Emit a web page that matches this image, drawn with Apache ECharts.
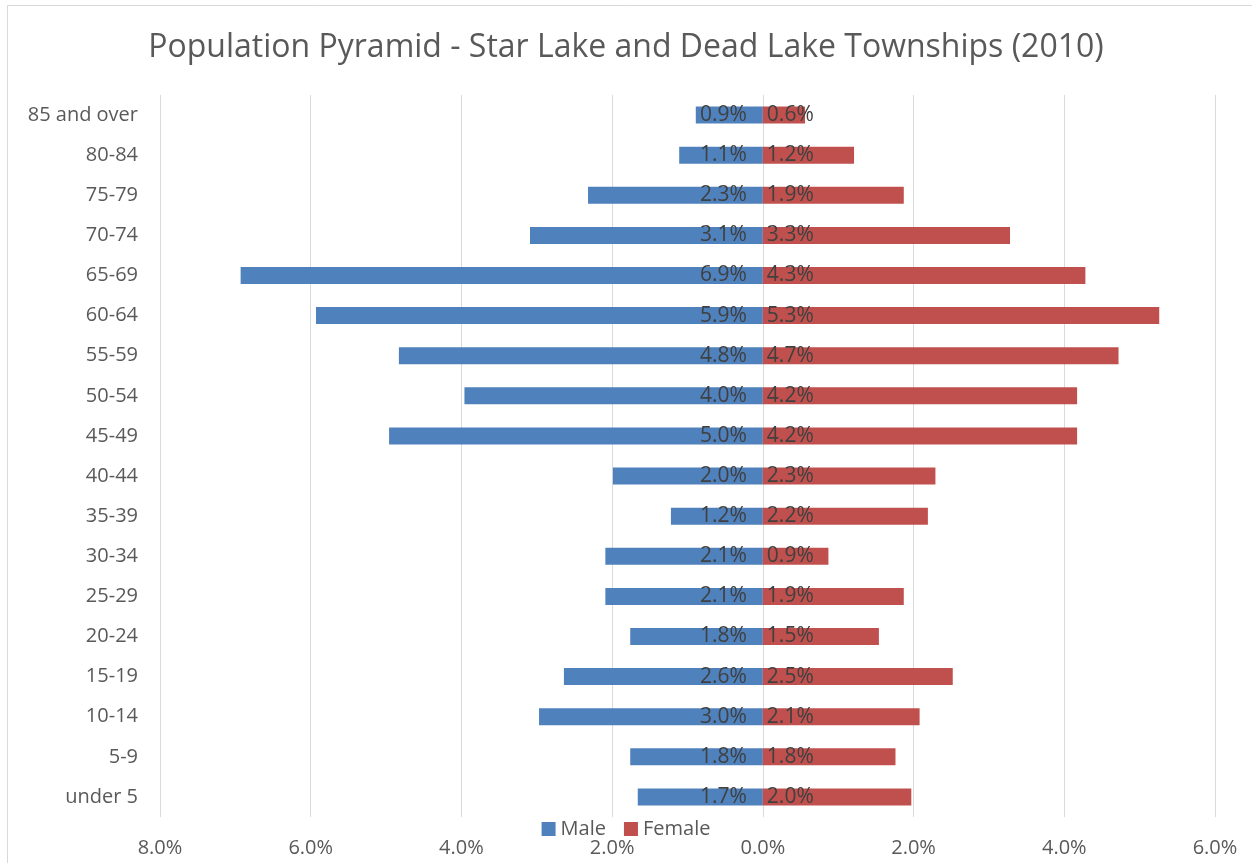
<!DOCTYPE html>
<html>
<head>
<meta charset="utf-8">
<script src="https://cdn.jsdelivr.net/npm/echarts@6/dist/echarts.min.js"></script>
<style>
html, body { margin: 0; padding: 0; background: #fff; }
#chart { width: 1252px; height: 863px; }
</style>
</head>
<body>
<div id="chart"></div>
<script>
var ageGroups = ['under 5', '5-9', '10-14', '15-19', '20-24', '25-29', '30-34', '35-39', '40-44',
	'45-49', '50-54', '55-59', '60-64', '65-69', '70-74', '75-79', '80-84', '85 and over'];
var maleShare = [1.66, 1.76, 2.97, 2.64, 1.76, 2.09, 2.09, 1.22, 1.99,
	4.96, 3.96, 4.83, 5.93, 6.93, 3.09, 2.32, 1.11, 0.89];
var femaleShare = [1.97, 1.76, 2.08, 2.52, 1.54, 1.87, 0.87, 2.19, 2.29,
	4.17, 4.17, 4.72, 5.26, 4.28, 3.28, 1.87, 1.21, 0.56];
var axisTicks = [-8, -6, -4, -2, 0, 2, 4, 6];

var chart = echarts.init(document.getElementById('chart'));
var font = '"Open Sans", "Noto Sans", sans-serif';

var option = {
	textStyle: { fontFamily: font },
	title: {
		text: 'Population Pyramid - Star Lake and Dead Lake Townships (2010)',
		left: 'center',
		top: 27,
		textStyle: { fontFamily: font, fontSize: 32, fontWeight: 'normal', color: '#595959' }
	},
	graphic: [{
		type: 'rect',
		shape: { x: 7.5, y: 5.5, width: 1260, height: 900 },
		style: { fill: 'none', stroke: '#d9d9d9', lineWidth: 1 },
		silent: true
	}],
	legend: {
		bottom: 19,
		left: 'center',
		itemWidth: 14,
		itemHeight: 14,
		itemGap: 18,
		icon: 'rect',
		textStyle: { fontFamily: font, fontSize: 20, color: '#595959' },
		data: ['Male', 'Female']
	},
	grid: { left: 160, right: 37, top: 95, bottom: 46 },
	xAxis: {
		type: 'value',
		min: axisTicks[0],
		max: axisTicks[axisTicks.length - 1],
		interval: 2,
		axisLine: { show: false },
		axisTick: { show: false },
		splitLine: { lineStyle: { color: '#d9d9d9', width: 1 } },
		axisLabel: {
			fontFamily: font,
			fontSize: 20,
			color: '#595959',
			margin: 21,
			formatter: function (v) { return Math.abs(v).toFixed(1) + '%'; }
		}
	},
	yAxis: {
		type: 'category',
		data: ageGroups,
		axisLine: { show: false },
		axisTick: { show: false },
		axisLabel: { fontFamily: font, fontSize: 20, color: '#595959', margin: 22 }
	},
	series: [{
		name: 'Male',
		type: 'bar',
		stack: 'pop',
		barWidth: 17,
		itemStyle: { color: '#4f81bd' },
		data: maleShare.map(function (v) { return -v; }),
		label: {
			show: true,
			position: 'insideRight',
			distance: 16,
			overflow: 'none',
			fontFamily: font,
			fontSize: 21,
			color: '#404040',
			formatter: function (p) { return Math.abs(p.value).toFixed(1) + '%'; }
		}
	}, {
		name: 'Female',
		type: 'bar',
		stack: 'pop',
		barWidth: 17,
		itemStyle: { color: '#c0504d' },
		data: femaleShare,
		label: {
			show: true,
			position: 'insideLeft',
			distance: 4,
			overflow: 'none',
			fontFamily: font,
			fontSize: 21,
			color: '#404040',
			formatter: function (p) { return p.value.toFixed(1) + '%'; }
		}
	}]
};

chart.setOption(option);
</script>
</body>
</html>
